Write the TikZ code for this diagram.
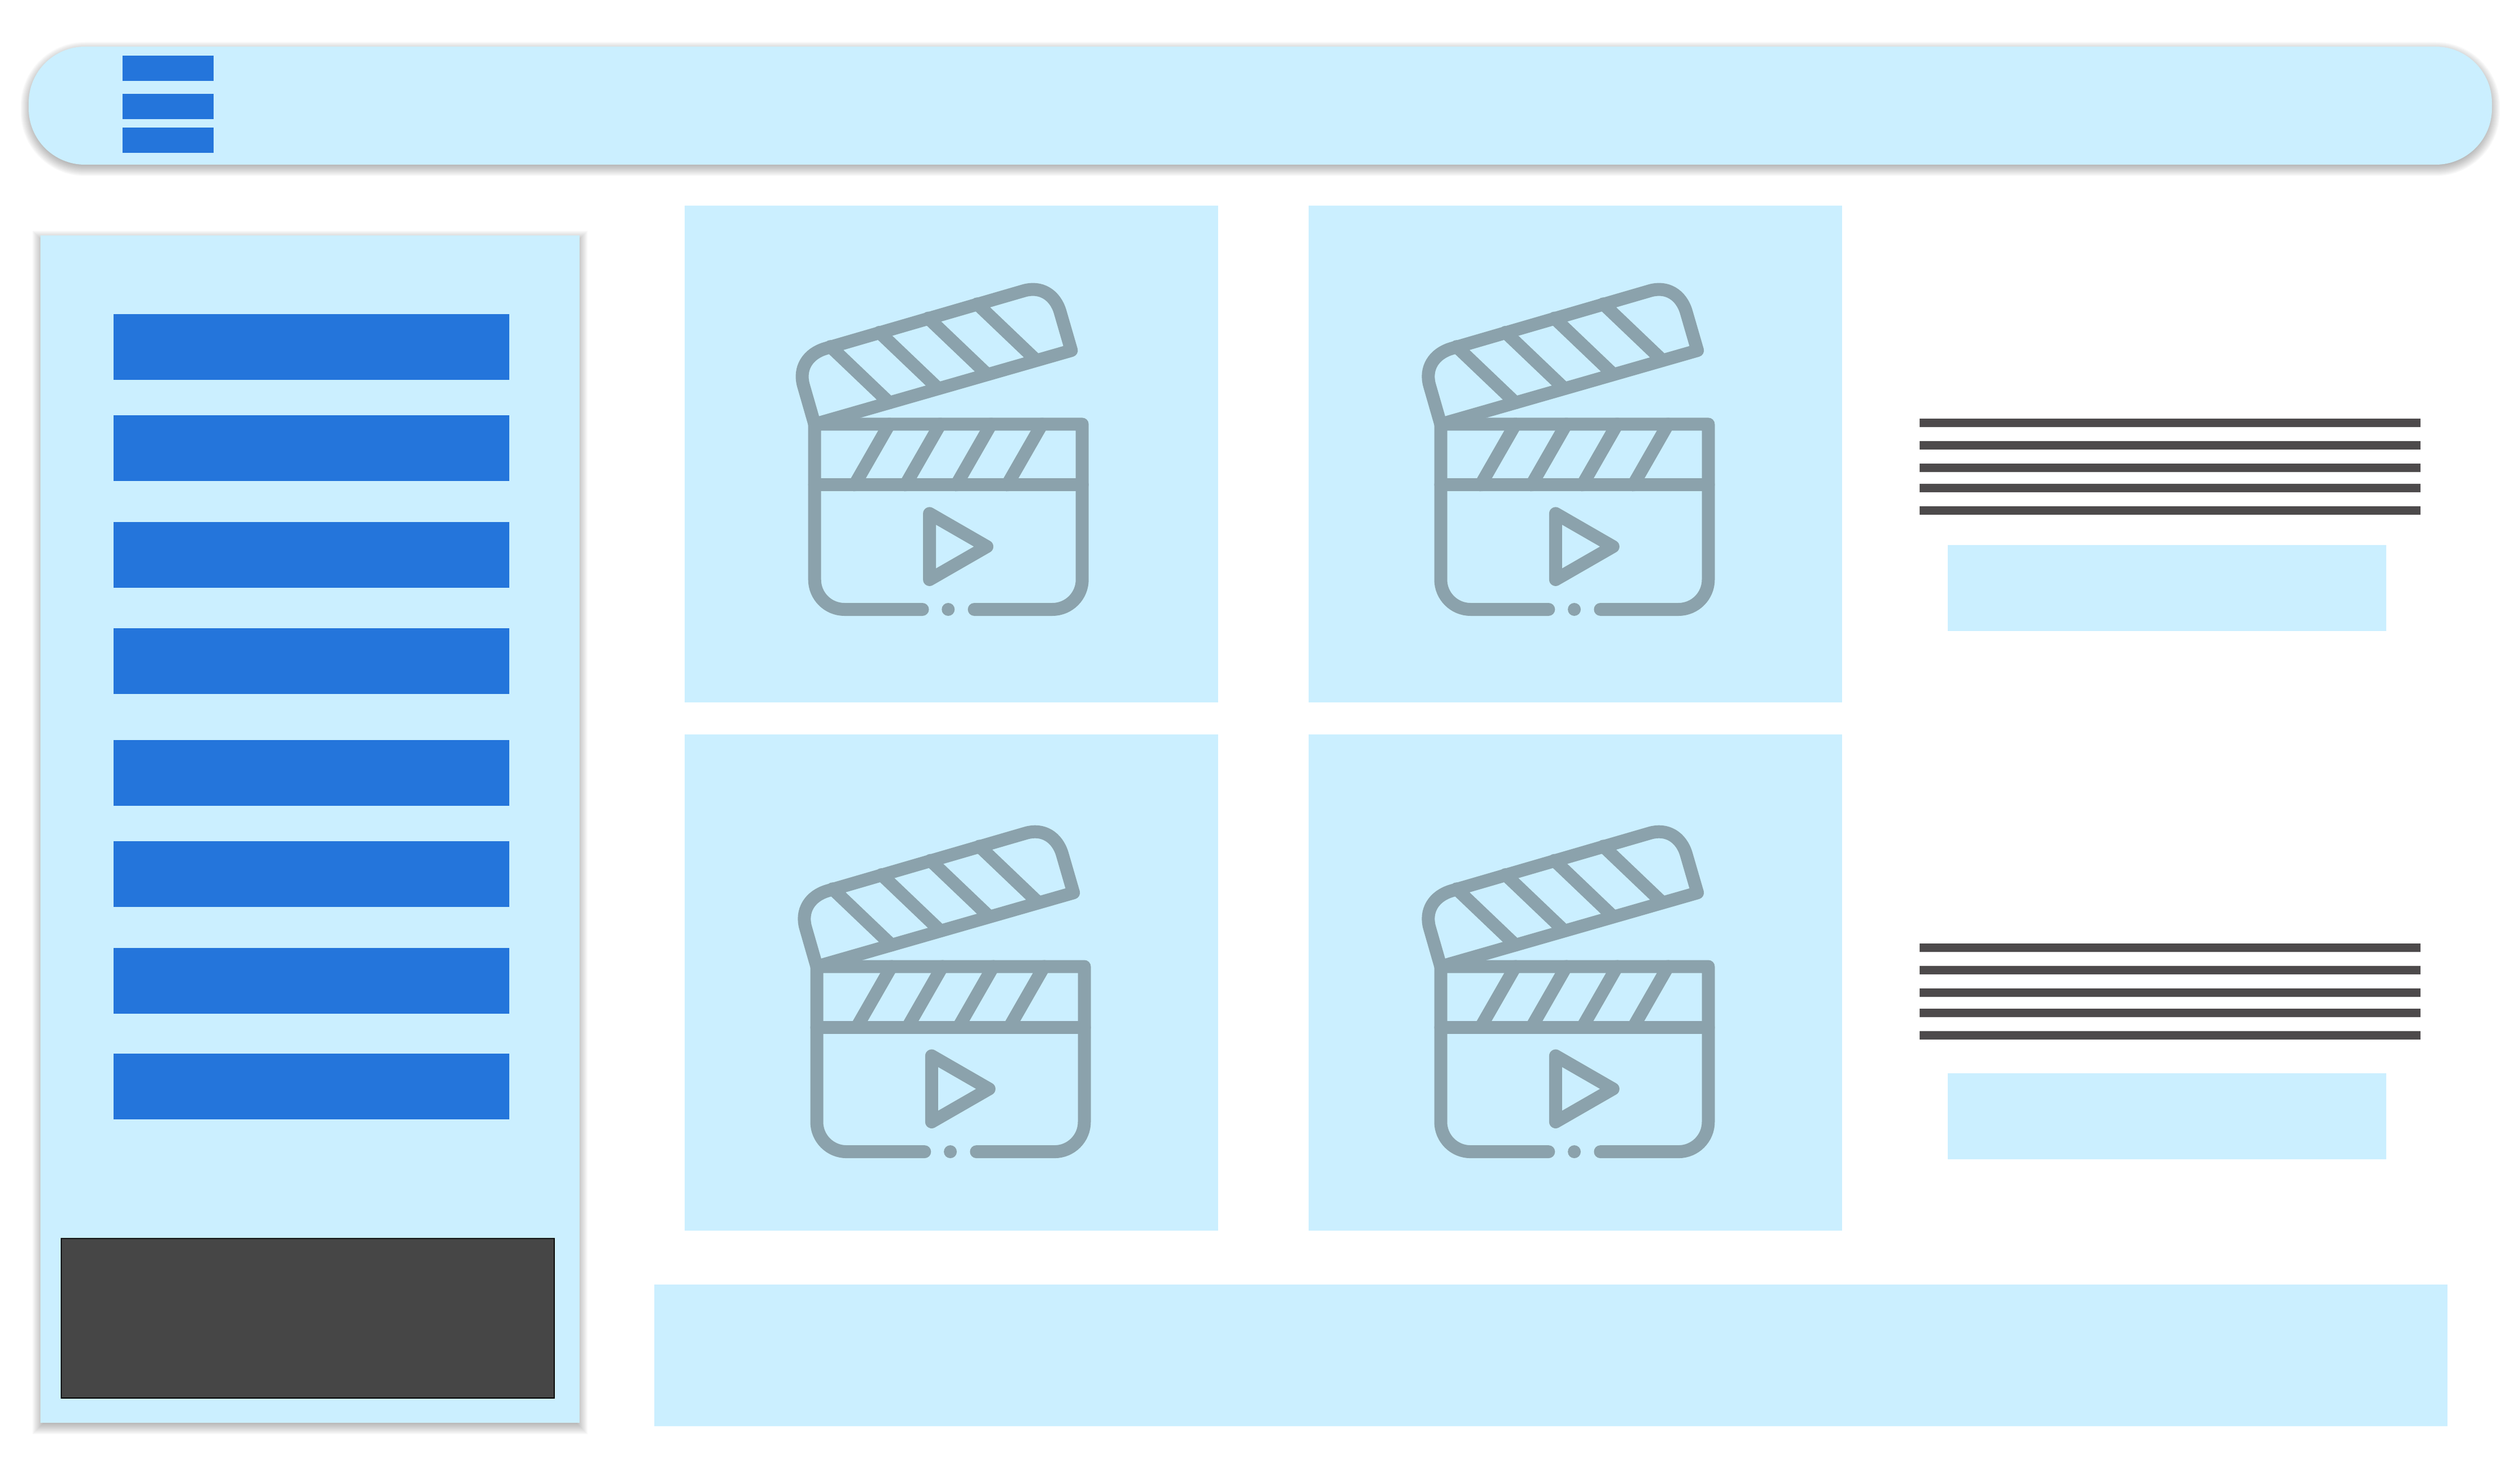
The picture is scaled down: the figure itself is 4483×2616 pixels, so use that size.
\documentclass[tikz,border=0pt]{standalone}
\usepackage{tikz}
\definecolor{panelblue}{HTML}{CBEFFF}
\definecolor{itemblue}{HTML}{2475DB}
\definecolor{linegray}{HTML}{4D4A4B}
\definecolor{darkbox}{HTML}{464646}
\definecolor{icongray}{HTML}{8BA2AC}

\begin{document}
\begin{tikzpicture}[x=0.1mm,y=-0.1mm,
	panel/.style={fill=panelblue},
	item/.style={fill=itemblue},
	textline/.style={fill=linegray},
	softshadow/.style={fill=black,opacity=0.03},
	icon/.style={draw=icongray,line width=2.3mm,line join=round,line cap=round},
	pics/clapboard/.style={code={
		\draw[icon] (191.8,329.6) [rounded corners=5.3mm] -- (0,329.6) -- (0,200) [sharp corners] -- (0,0) -- (476,0) -- (476,200) [rounded corners=5.3mm] -- (476,329.6) -- (284,329.6);
		\draw[icon] (0,108) -- (476,108);
		\fill[icongray] (237.6,329.6) circle (1.15mm);
		\foreach \i in {0,...,3}
			\draw[icon] (132.9+90.5*\i,0) -- (71+90.5*\i,108);
		\draw[icon] (204.4,159) -- (306.4,217.8) -- (204.4,276.5) -- cycle;
		\draw[icon] (0,0) -- (456.7,-131.2) -- (436.9,-199.4) .. controls (427.8,-230.8) and (401.7,-246.3) .. (371.7,-237.3) -- (19.8,-134.9) .. controls (-12.7,-125.5) and (-28.5,-99) .. (-19.8,-68.8) -- cycle;
		\foreach \i in {0,...,3}
			\draw[icon] (28.1+87*\i,-138.2-25.3*\i) -- (132.9+87*\i,-38.2-25.3*\i);
	}}]
	\useasboundingbox (0,0) rectangle (4483,2616);
	% top bar
	\foreach \e in {-12,-10,...,14}
		\fill[softshadow,rounded corners={(100+\e)*0.1mm}] (51-\e,89-\e) rectangle (4433+\e,299+\e);
	\fill[panel,rounded corners=10mm] (51,83) rectangle (4433,293);
	\foreach \y in {99,167,227}
		\fill[item] (218,\y) rectangle (380,\y+45);
	% sidebar
	\foreach \e in {-12,-10,...,14}
		\fill[softshadow] (72-\e,425-\e) rectangle (1031+\e,2538+\e);
	\fill[panel] (72,419) rectangle (1031,2532);
	\foreach \y in {559,739,929,1118,1317,1497,1687,1875}
		\fill[item] (202,\y) rectangle (906,\y+117);
	\filldraw[fill=darkbox,draw=black,line width=0.15mm] (109,2204) rectangle (986,2488);
	% video cards
	\fill[panel] (1218,366) rectangle (2167,1250);
	\fill[panel] (2328,366) rectangle (3277,1250);
	\fill[panel] (1218,1307) rectangle (2167,2190);
	\fill[panel] (2328,1307) rectangle (3277,2190);
	\pic at (1449.2,754.9) {clapboard};
	\pic at (2563,754.9) {clapboard};
	\pic at (1453,1720) {clapboard};
	\pic at (2563,1720) {clapboard};
	% text blocks
	\foreach \y in {745,785,825,861,901,1679,1719,1759,1795,1835}
		\fill[textline] (3415,\y) rectangle (4306,\y+15);
	\fill[panel] (3465,970) rectangle (4245,1123);
	\fill[panel] (3465,1910) rectangle (4245,2063);
	% bottom bar
	\fill[panel] (1164,2286) rectangle (4354,2538);
\end{tikzpicture}
\end{document}
